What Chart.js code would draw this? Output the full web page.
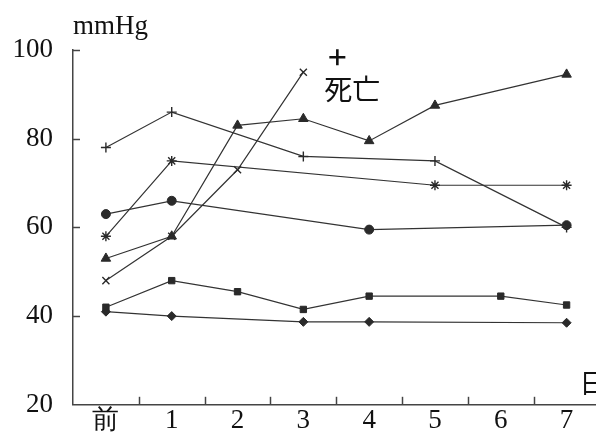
<!DOCTYPE html>
<html>
<head>
<meta charset="utf-8">
<script src="https://cdn.jsdelivr.net/npm/chart.js@4"></script>
<style>
html,body{margin:0;padding:0;background:#fff;overflow:hidden;width:596px;height:441px;}
#wrap{position:absolute;left:0;top:0;width:606px;height:441px;}
</style>
</head>
<body>
<div id="wrap"><canvas id="c"></canvas></div>
<script>
const categories = ['前','1','2','3','4','5','6','7'];
const yTickValues = [20, 40, 60, 80, 100];
const plusSeries     = [78, 86, null, 76, null, 75, null, 60];
const starSeries     = [58, 75, null, null, null, 69.5, null, 69.5];
const crossSeries    = [48, 58, 73, 95, null, null, null, null];
const triangleSeries = [53, 58, 83, 84.5, 79.5, 87.5, null, 94.5];
const circleSeries   = [63, 66, null, null, 59.5, null, null, 60.5];
const squareSeries   = [42, 48, 45.5, 41.5, 44.5, null, 44.5, 42.5];
const diamondSeries  = [41, 40, null, 38.7, 38.7, null, null, 38.5];
const yUnit = 'mmHg';
const xUnit = '日';
const deathLabel = '死亡';

const ink = '#2a2a2a';
const serif = "'Liberation Serif', 'DejaVu Serif', serif";

function ds(data, style, radius, rot) {
  return {
    data: data,
    pointStyle: style,
    pointRadius: radius,
    pointRotation: rot || 0,
    borderColor: '#333',
    backgroundColor: ink,
    pointBorderColor: ink,
    pointBackgroundColor: ink,
    borderWidth: 1.2,
    pointBorderWidth: (style === 'cross' || style === 'crossRot' || style === 'star') ? 1.4 : 1,
    spanGaps: true,
    tension: 0,
    fill: false
  };
}

const annot = {
  id: 'annot',
  afterDraw(chart) {
    const ctx = chart.ctx;
    const xs = chart.scales.x, ys = chart.scales.y;
    const area = chart.chartArea;
    ctx.save();
    ctx.strokeStyle = '#444';
    ctx.lineWidth = 1.5;
    // inward y ticks
    yTickValues.forEach(v => {
      if (v === 20) return;
      const y = Math.round(ys.getPixelForValue(v)) + 0.5;
      ctx.beginPath(); ctx.moveTo(area.left, y); ctx.lineTo(area.left + 7, y); ctx.stroke();
    });
    // inward x ticks between categories
    const step = xs.getPixelForValue(1) - xs.getPixelForValue(0);
    for (let i = 0; i < categories.length; i++) {
      const x = Math.round(xs.getPixelForValue(i) + step / 2) + 0.5;
      ctx.beginPath(); ctx.moveTo(x, area.bottom); ctx.lineTo(x, area.bottom - 8); ctx.stroke();
    }
    // unit labels
    ctx.fillStyle = '#111';
    ctx.font = "27px " + serif;
    ctx.textAlign = 'left';
    ctx.textBaseline = 'alphabetic';
    ctx.fillText(yUnit, area.left, 34);
    ctx.font = "26px 'Noto Sans CJK JP', sans-serif";
    ctx.textBaseline = 'middle';
    ctx.fillText(xUnit, xs.getPixelForValue(7) + 13, ys.getPixelForValue(25));
    // death mark near the last point of the cross series
    const dx = xs.getPixelForValue(3) + 33;
    const dy = ys.getPixelForValue(95) + 22;
    ctx.strokeStyle = '#111';
    ctx.lineWidth = 2.6;
    ctx.beginPath();
    ctx.moveTo(dx - 7, dy - 37); ctx.lineTo(dx + 9, dy - 37);
    ctx.moveTo(dx + 1, dy - 45); ctx.lineTo(dx + 1, dy - 29);
    ctx.stroke();
    ctx.font = "28px 'Noto Sans CJK JP', sans-serif";
    ctx.textAlign = 'center';
    ctx.fillText(deathLabel, dx + 16, dy - 5);
    ctx.restore();
  }
};

new Chart(document.getElementById('c'), {
  type: 'line',
  data: {
    labels: categories,
    datasets: [
      ds(plusSeries, 'cross', 5),
      ds(starSeries, 'star', 5),
      ds(crossSeries, 'crossRot', 5),
      ds(triangleSeries, 'triangle', 5.5),
      ds(circleSeries, 'circle', 4.5),
      ds(squareSeries, 'rect', 4.5),
      ds(diamondSeries, 'rectRot', 4.5)
    ]
  },
  options: {
    responsive: true,
    maintainAspectRatio: false,
    animation: false,
    events: [],
    layout: { padding: { top: 50, left: 0, right: 0, bottom: 0 } },
    plugins: { legend: { display: false }, tooltip: { enabled: false } },
    scales: {
      x: {
        type: 'category',
        offset: true,
        grid: { display: true, drawOnChartArea: false, drawTicks: false },
        border: { display: true, color: '#444', width: 1.5 },
        ticks: { color: '#111', font: { family: serif, size: 27 }, padding: 0, maxRotation: 0, autoSkip: false },
        afterFit(s) { s.height = 31; }
      },
      y: {
        type: 'linear',
        min: 20, max: 100,
        grid: { display: true, drawOnChartArea: false, drawTicks: false },
        border: { display: true, color: '#444', width: 1.5 },
        ticks: { stepSize: 20, color: '#111', font: { family: serif, size: 27 }, padding: 20 },
        afterFit(s) { s.width = 73; }
      }
    }
  },
  plugins: [annot]
});
</script>
</body>
</html>
